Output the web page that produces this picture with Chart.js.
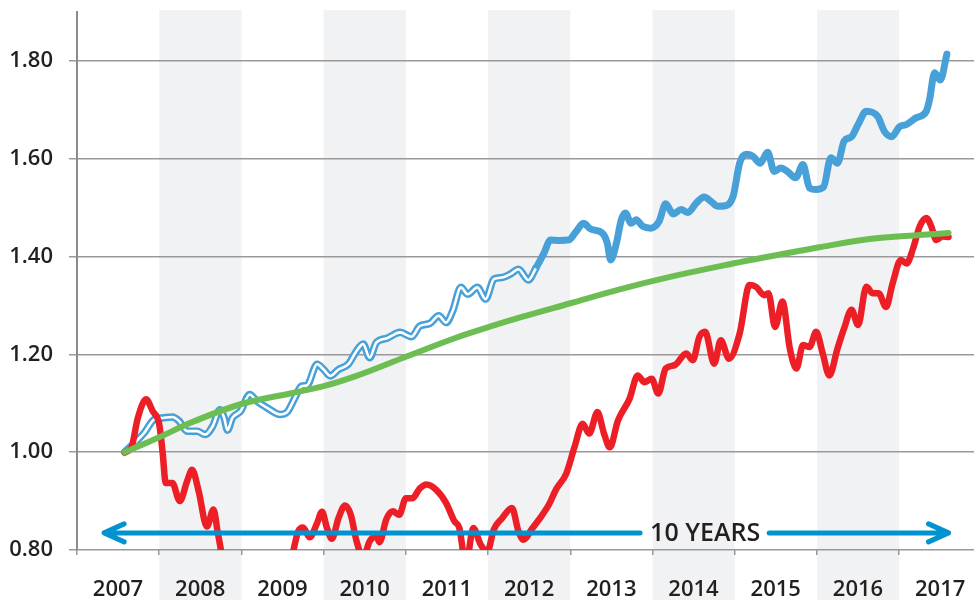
<!DOCTYPE html>
<html>
<head>
<meta charset="utf-8">
<script src="https://cdn.jsdelivr.net/npm/chart.js@4.4.1/dist/chart.umd.min.js"></script>
<style>
  html, body { margin: 0; padding: 0; background: #fff; }
</style>
</head>
<body>
<canvas id="chart" width="974" height="600"></canvas>
<script>
// axis labels
const yearLabels = [2007, 2008, 2009, 2010, 2011, 2012, 2013, 2014, 2015, 2016, 2017];
const shadedYears = [2008, 2010, 2012, 2014, 2016];
const yTicks = [0.8, 1.0, 1.2, 1.4, 1.6, 1.8];

// blue series (double line up to early 2012, solid afterwards)
const blueX = [2007.08, 2007.20, 2007.32, 2007.44, 2007.54, 2007.66, 2007.74, 2007.84, 2007.96, 2008.06,
  2008.15, 2008.24, 2008.29, 2008.33, 2008.39, 2008.49, 2008.60, 2008.69, 2008.81, 2008.97,
  2009.05, 2009.15, 2009.23, 2009.30, 2009.42, 2009.50, 2009.58, 2009.68, 2009.80, 2009.90,
  2009.98, 2010.06, 2010.14, 2010.27, 2010.43, 2010.57, 2010.67, 2010.79, 2010.90, 2010.99,
  2011.07, 2011.17, 2011.25, 2011.37, 2011.47, 2011.57, 2011.67, 2011.77, 2011.87, 2011.99,
  2012.08, 2012.18, 2012.26, 2012.37, 2012.48, 2012.57, 2012.66, 2012.75, 2012.89, 2012.95,
  2012.99, 2013.06, 2013.12, 2013.17, 2013.24, 2013.30, 2013.38, 2013.48, 2013.58, 2013.66,
  2013.75, 2013.85, 2013.93, 2014.03, 2014.13, 2014.21, 2014.29, 2014.39, 2014.48, 2014.56,
  2014.64, 2014.72, 2014.81, 2014.90, 2014.98, 2015.06, 2015.14, 2015.24, 2015.33, 2015.41,
  2015.49, 2015.58, 2015.67, 2015.75, 2015.83, 2015.92, 2016.00, 2016.10, 2016.24, 2016.32,
  2016.41, 2016.50, 2016.59, 2016.71, 2016.83, 2016.87, 2016.93, 2017.00, 2017.08];
const blueY = [1.000, 1.019, 1.040, 1.067, 1.070, 1.072, 1.064, 1.043, 1.043, 1.036,
  1.053, 1.087, 1.070, 1.045, 1.070, 1.084, 1.118, 1.104, 1.091, 1.077,
  1.081, 1.111, 1.135, 1.137, 1.180, 1.169, 1.156, 1.169, 1.180, 1.207,
  1.221, 1.193, 1.224, 1.233, 1.245, 1.236, 1.258, 1.263, 1.279, 1.265,
  1.289, 1.337, 1.323, 1.337, 1.313, 1.354, 1.357, 1.364, 1.374, 1.352,
  1.376, 1.407, 1.434, 1.433, 1.434, 1.451, 1.468, 1.456, 1.448, 1.427,
  1.393, 1.427, 1.475, 1.489, 1.468, 1.475, 1.462, 1.458, 1.472, 1.508,
  1.487, 1.496, 1.490, 1.509, 1.522, 1.513, 1.503, 1.504, 1.523, 1.591,
  1.609, 1.605, 1.591, 1.613, 1.574, 1.581, 1.574, 1.561, 1.588, 1.540,
  1.537, 1.542, 1.602, 1.591, 1.636, 1.645, 1.670, 1.697, 1.686, 1.656,
  1.645, 1.665, 1.670, 1.684, 1.697, 1.721, 1.776, 1.761, 1.814];
const blueDoubleUntil = 2012.0;

// red series
const redX = [2007.08, 2007.16, 2007.24, 2007.34, 2007.42, 2007.50, 2007.54, 2007.58, 2007.66, 2007.75,
  2007.84, 2007.90, 2007.98, 2008.08, 2008.16, 2008.21, 2008.30, 2008.45, 2008.65, 2008.85,
  2009.02, 2009.12, 2009.19, 2009.25, 2009.33, 2009.42, 2009.48, 2009.54, 2009.60, 2009.68,
  2009.76, 2009.83, 2009.90, 2009.98, 2010.06, 2010.14, 2010.18, 2010.26, 2010.34, 2010.42,
  2010.50, 2010.58, 2010.67, 2010.75, 2010.87, 2010.99, 2011.09, 2011.15, 2011.23, 2011.32,
  2011.41, 2011.49, 2011.57, 2011.67, 2011.79, 2011.87, 2011.93, 2012.04, 2012.16, 2012.24,
  2012.33, 2012.45, 2012.55, 2012.65, 2012.73, 2012.83, 2012.91, 2012.98, 2013.08, 2013.22,
  2013.32, 2013.40, 2013.49, 2013.57, 2013.66, 2013.77, 2013.91, 2013.99, 2014.07, 2014.14,
  2014.25, 2014.33, 2014.43, 2014.56, 2014.68, 2014.76, 2014.86, 2014.91, 2014.99, 2015.08,
  2015.17, 2015.25, 2015.33, 2015.41, 2015.49, 2015.57, 2015.65, 2015.75, 2015.83, 2015.92,
  2016.00, 2016.10, 2016.18, 2016.25, 2016.34, 2016.42, 2016.52, 2016.59, 2016.67, 2016.75,
  2016.83, 2016.89, 2016.95, 2017.03, 2017.10];
const redY = [1.000, 1.009, 1.070, 1.108, 1.084, 1.057, 1.002, 0.937, 0.937, 0.900,
  0.941, 0.964, 0.920, 0.848, 0.883, 0.838, 0.760, 0.710, 0.640, 0.650,
  0.720, 0.790, 0.838, 0.846, 0.826, 0.855, 0.878, 0.845, 0.823, 0.865,
  0.891, 0.872, 0.818, 0.785, 0.818, 0.828, 0.816, 0.862, 0.879, 0.872,
  0.906, 0.906, 0.926, 0.934, 0.923, 0.896, 0.859, 0.845, 0.770, 0.845,
  0.811, 0.797, 0.842, 0.865, 0.886, 0.838, 0.821, 0.845, 0.872, 0.893,
  0.925, 0.956, 1.010, 1.058, 1.038, 1.082, 1.038, 1.010, 1.065, 1.109,
  1.157, 1.143, 1.150, 1.120, 1.171, 1.178, 1.202, 1.188, 1.236, 1.246,
  1.181, 1.229, 1.191, 1.243, 1.342, 1.338, 1.321, 1.325, 1.256, 1.308,
  1.212, 1.171, 1.219, 1.215, 1.246, 1.202, 1.157, 1.212, 1.253, 1.291,
  1.260, 1.338, 1.325, 1.325, 1.297, 1.345, 1.393, 1.386, 1.417, 1.462,
  1.479, 1.462, 1.434, 1.441, 1.440];

// green series
const greenX = [2007.08, 2007.48, 2007.88, 2008.49, 2009.09, 2009.50, 2009.90, 2010.50, 2011.11, 2011.51,
  2011.92, 2012.49, 2013.10, 2013.70, 2014.31, 2014.92, 2015.53, 2016.14, 2016.75, 2017.10];
const greenY = [1.000, 1.029, 1.060, 1.098, 1.120, 1.135, 1.156, 1.195, 1.234, 1.256,
  1.277, 1.304, 1.333, 1.358, 1.380, 1.400, 1.419, 1.436, 1.444, 1.448];

// "10 YEARS" arrow
const arrowFrom = 2006.83;
const arrowTo = 2017.1;
const arrowLevel = 0.835;
const arrowLabel = '10 YEARS';
const arrowLabelAt = 2014.14;

const pts = (xs, ys) => xs.map((x, i) => ({ x: x, y: ys[i] }));

const FONT = '"Open Sans", "Noto Sans", sans-serif';
const TEXT = '#231f20';

const bandsPlugin = {
  id: 'bands',
  beforeDraw(chart) {
    const ctx = chart.ctx, x = chart.scales.x, area = chart.chartArea;
    ctx.save();
    ctx.fillStyle = '#fff';
    ctx.fillRect(0, 0, chart.width, chart.height);
    ctx.fillStyle = '#f1f2f4';
    shadedYears.forEach(yr => {
      const a = x.getPixelForValue(yr - 0.5), b = x.getPixelForValue(yr + 0.5);
      ctx.fillRect(a, area.top - 2, b - a, chart.height - area.top + 2);
    });
    ctx.restore();
  }
};

const arrowPlugin = {
  id: 'arrow',
  afterDatasetsDraw(chart) {
    const ctx = chart.ctx, x = chart.scales.x, y = chart.scales.y;
    const x0 = x.getPixelForValue(arrowFrom), x1 = x.getPixelForValue(arrowTo);
    const xt = x.getPixelForValue(arrowLabelAt), yy = y.getPixelForValue(arrowLevel);
    ctx.save();
    ctx.font = '600 25px ' + FONT;
    const half = ctx.measureText(arrowLabel).width / 2;
    ctx.strokeStyle = '#0093cf';
    ctx.lineWidth = 5;
    ctx.lineCap = 'round';
    ctx.lineJoin = 'round';
    ctx.beginPath();
    ctx.moveTo(x0 + 2, yy);
    ctx.lineTo(xt - half - 10, yy);
    ctx.moveTo(xt + half + 9, yy);
    ctx.lineTo(x1 - 2, yy);
    // heads
    ctx.moveTo(x0 + 20, yy - 9);
    ctx.lineTo(x0, yy);
    ctx.lineTo(x0 + 20, yy + 9);
    ctx.moveTo(x1 - 20, yy - 9);
    ctx.lineTo(x1, yy);
    ctx.lineTo(x1 - 20, yy + 9);
    ctx.stroke();
    ctx.fillStyle = TEXT;
    ctx.textAlign = 'center';
    ctx.textBaseline = 'middle';
    ctx.fillText(arrowLabel, xt, yy + 1);
    ctx.restore();
  }
};

new Chart(document.getElementById('chart'), {
  type: 'line',
  data: {
    datasets: [{
      label: 'green',
      data: pts(greenX, greenY),
      borderColor: '#6dbe52',
      borderWidth: 6,
      order: 0
    }, {
      label: 'red',
      data: pts(redX, redY),
      borderColor: '#ec1f26',
      borderWidth: 6.5,
      order: 1
    }, {
      label: 'blue core',
      data: pts(blueX, blueY),
      borderColor: '#fff',
      borderWidth: 2.6,
      borderCapStyle: 'butt',
      segment: {
        borderColor: c => c.p0.parsed.x >= blueDoubleUntil ? 'rgba(255,255,255,0)' : '#fff'
      },
      order: 2
    }, {
      label: 'blue',
      data: pts(blueX, blueY),
      borderColor: '#47a0d8',
      borderWidth: 7,
      segment: {
        borderWidth: c => c.p0.parsed.x >= blueDoubleUntil ? 7 : 7.5
      },
      order: 3
    }]
  },
  options: {
    responsive: false,
    animation: false,
    devicePixelRatio: 1,
    layout: { padding: { top: 12, right: 0, left: 0, bottom: 0 } },
    elements: {
      point: { radius: 0 },
      line: { cubicInterpolationMode: 'monotone', borderCapStyle: 'round', borderJoinStyle: 'round' }
    },
    plugins: { legend: { display: false }, tooltip: { enabled: false } },
    scales: {
      x: {
        type: 'linear',
        min: 2006.5,
        max: 2017.41,
        afterFit: s => { s.height = 50; s.paddingLeft = 0; s.paddingRight = 0; },
        afterBuildTicks: s => { s.ticks = yearLabels.map(v => ({ value: v - 0.5 })); },
        grid: { drawOnChartArea: false, drawTicks: true, tickLength: 5, color: '#999', lineWidth: 1.5 },
        border: { display: false },
        ticks: {
          autoSkip: false,
          maxRotation: 0,
          labelOffset: 41,
          padding: 22,
          color: TEXT,
          font: { family: FONT, size: 22, weight: '600' },
          callback: (v, i) => String(yearLabels[i])
        }
      },
      y: {
        min: 0.8,
        max: 1.9,
        afterFit: s => { s.width = 77; s.paddingTop = 0; s.paddingBottom = 0; },
        afterBuildTicks: s => { s.ticks = yTicks.map(v => ({ value: v })); },
        grid: { color: '#999', lineWidth: 1.5, tickLength: 8 },
        border: { display: true, color: '#8c8c8c', width: 2 },
        ticks: {
          padding: 16,
          color: TEXT,
          font: { family: FONT, size: 22, weight: '600' },
          callback: v => v.toFixed(2)
        }
      }
    }
  },
  plugins: [bandsPlugin, arrowPlugin]
});
</script>
</body>
</html>
